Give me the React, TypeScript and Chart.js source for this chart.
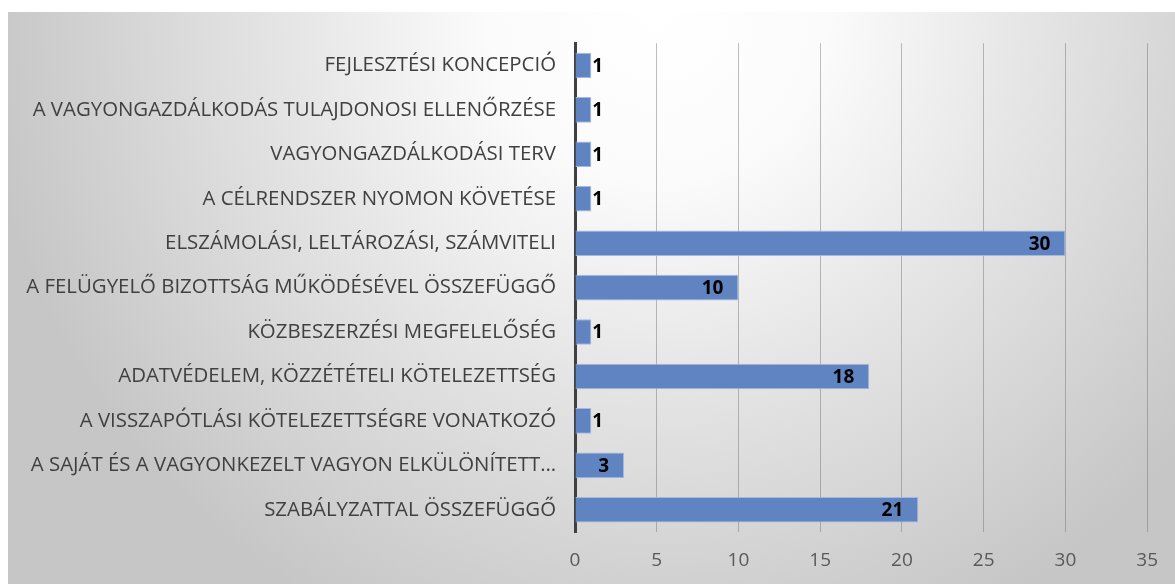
import React, { useEffect, useRef } from "react";
import { Chart, registerables } from "chart.js";

Chart.register(...registerables);

const categories = [
  "FEJLESZTÉSI KONCEPCIÓ",
  "A VAGYONGAZDÁLKODÁS TULAJDONOSI ELLENŐRZÉSE",
  "VAGYONGAZDÁLKODÁSI TERV",
  "A CÉLRENDSZER NYOMON KÖVETÉSE",
  "ELSZÁMOLÁSI, LELTÁROZÁSI, SZÁMVITELI",
  "A FELÜGYELŐ BIZOTTSÁG MŰKÖDÉSÉVEL ÖSSZEFÜGGŐ",
  "KÖZBESZERZÉSI MEGFELELŐSÉG",
  "ADATVÉDELEM, KÖZZÉTÉTELI KÖTELEZETTSÉG",
  "A VISSZAPÓTLÁSI KÖTELEZETTSÉGRE VONATKOZÓ",
  "A SAJÁT ÉS A VAGYONKEZELT VAGYON ELKÜLÖNÍTETT…",
  "SZABÁLYZATTAL ÖSSZEFÜGGŐ",
];

const values = [1, 1, 1, 1, 30, 10, 1, 18, 1, 3, 21];

const xTicks = [0, 5, 10, 15, 20, 25, 30, 35];

const FONT = "'Open Sans', sans-serif";

const backgroundPlugin = {
  id: "bgGradient",
  beforeDraw(chart: any) {
    const { ctx, width, height } = chart;
    ctx.save();
    const g = ctx.createRadialGradient(650, 0, 0, 650, 0, 680);
    g.addColorStop(0, "#ffffff");
    g.addColorStop(0.25, "#fbfbfb");
    g.addColorStop(0.55, "#e5e5e5");
    g.addColorStop(1, "#c6c6c6");
    ctx.fillStyle = g;
    ctx.fillRect(0, 0, width, height);
    ctx.restore();
  },
};

const valueLabelPlugin = {
  id: "valueLabels",
  afterDatasetsDraw(chart: any) {
    const { ctx } = chart;
    const meta = chart.getDatasetMeta(0);
    ctx.save();
    ctx.font = `bold 19px ${FONT}`;
    ctx.fillStyle = "#000000";
    ctx.textBaseline = "middle";
    meta.data.forEach((bar: any, i: number) => {
      const v = values[i];
      const text = String(v);
      if (v >= 3) {
        ctx.textAlign = "right";
        ctx.fillText(text, bar.x - 15, bar.y + 1);
      } else {
        ctx.textAlign = "left";
        ctx.fillText(text, bar.x + 1, bar.y + 1);
      }
    });
    ctx.restore();
  },
};

export default function App() {
  const canvasRef = useRef<HTMLCanvasElement | null>(null);

  useEffect(() => {
    if (!canvasRef.current) return;
    const chart = new Chart(canvasRef.current, {
      type: "bar",
      data: {
        labels: categories,
        datasets: [
          {
            data: values,
            backgroundColor: "#6084c2",
            borderColor: "#a3b9e1",
            borderWidth: 1,
            barPercentage: 0.9,
            categoryPercentage: 0.64,
          },
        ],
      },
      options: {
        indexAxis: "y",
        animation: false,
        responsive: true,
        maintainAspectRatio: false,
        layout: { padding: { top: 28, left: 0, right: 26, bottom: 0 } },
        plugins: {
          legend: { display: false },
          tooltip: { enabled: false },
        },
        scales: {
          x: {
            min: 0,
            max: 35,
            afterBuildTicks(scale: any) {
              scale.ticks = xTicks.map((v) => ({ value: v }));
            },
            afterFit(scale: any) {
              scale.height = 52;
            },
            grid: {
              color: "rgba(110,110,110,0.45)",
              lineWidth: 1,
              drawTicks: false,
            },
            border: { display: false },
            ticks: {
              color: "#595959",
              font: { family: FONT, size: 19 },
              padding: 17,
            },
          },
          y: {
            afterFit(scale: any) {
              scale.width = 567;
            },
            grid: { display: false, drawTicks: false },
            border: { display: true, color: "#404040", width: 3 },
            ticks: {
              color: "#404040",
              font: { family: FONT, size: 20.4 },
              padding: 19,
              autoSkip: false,
            },
          },
        },
      },
      plugins: [backgroundPlugin, valueLabelPlugin],
    });
    return () => chart.destroy();
  }, []);

  return (
    <div
      style={{
        position: "absolute",
        left: 8,
        top: 12,
        width: 1167,
        height: 572,
      }}
    >
      <canvas ref={canvasRef} />
    </div>
  );
}
